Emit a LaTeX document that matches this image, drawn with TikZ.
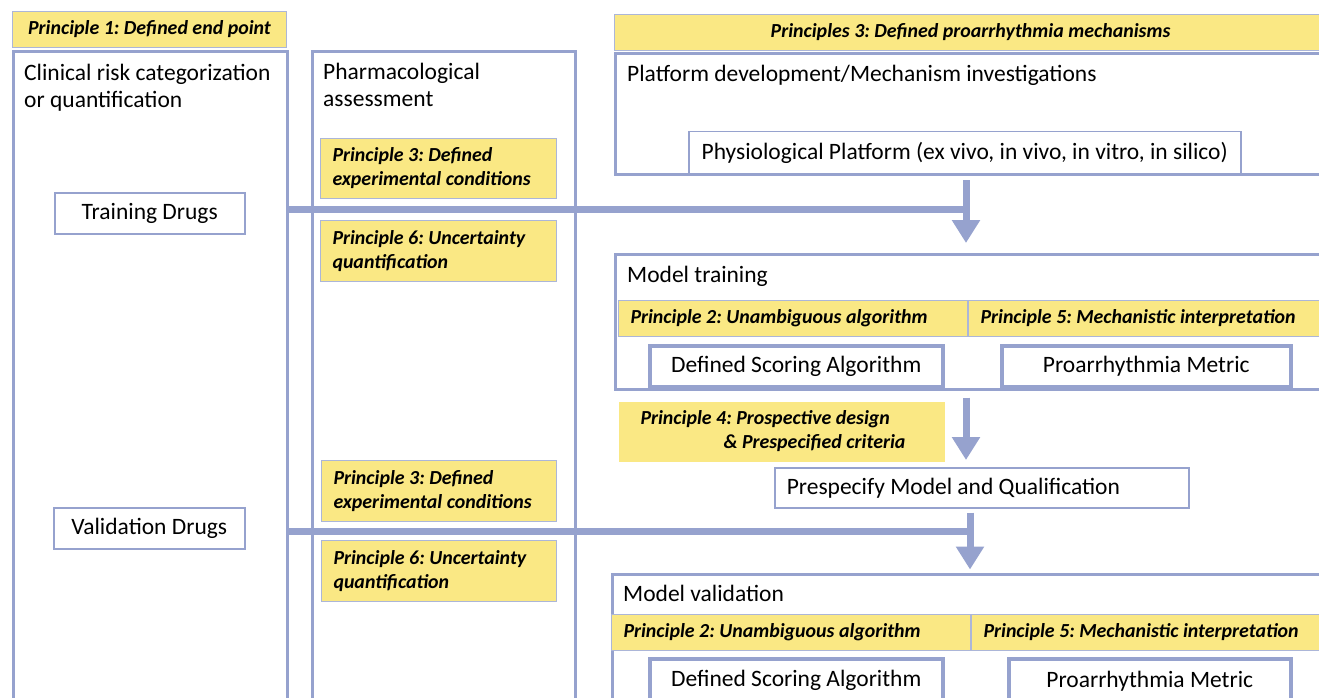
\documentclass[tikz,border=0pt]{standalone}
\usepackage{fontspec}
\setmainfont{Carlito}
\frenchspacing
\usetikzlibrary{positioning,arrows.meta}
\definecolor{bordc}{RGB}{150,162,206}
\definecolor{prinyel}{RGB}{250,232,132}
\definecolor{prinline}{RGB}{172,182,216}

\tikzset{
  frame/.style={draw=bordc, line width=3pt, anchor=north west, inner sep=0pt},
  lbl/.style={anchor=base west, inner sep=0pt, align=flush left, font=\fontsize{23.5}{28}\selectfont},
  itembox/.style={draw=bordc, line width=1.5pt, fill=white, anchor=north west, inner sep=0pt, font=\fontsize{23.5}{28}\selectfont},
  metricbox/.style={itembox, line width=3.5pt},
  prin/.style={fill=prinyel, draw=prinline, line width=1pt, anchor=north west, inner xsep=12pt, inner ysep=0pt,
    align=flush left, text width=#1, font=\bfseries\itshape\fontsize{19.9}{24}\selectfont},
  flow/.style={draw=bordc, line width=7pt},
  flowarr/.style={flow, -{Triangle[width=27pt,length=23pt]}},
}

\begin{document}
\begin{tikzpicture}[x=1pt, y=-1pt]
  \useasboundingbox (0,0) rectangle (1319,698);
  \clip (0,0) rectangle (1319,698);

  % clinical column
  \node[prin=264, inner xsep=5pt, align=flush center, minimum height=36pt] (p1) at (12,11) {Principle 1: Defined end point};
  \node[frame, minimum width=274pt, minimum height=720pt] (leftcol) at (12,50) {};
  \node[lbl] (leftlbl) at ([shift={(12,58)}]leftcol.north west) {Clinical risk categorization\\or quantification};
  \node[itembox, minimum width=190pt, minimum height=41pt] (train) at (54,192) {Training Drugs};
  \node[itembox, minimum width=191pt, minimum height=41pt] (valid) at (53,507) {Validation Drugs};

  % pharmacology column
  \node[frame, minimum width=263pt, minimum height=720pt] (midcol) at (311,50) {};
  \node[lbl] (midlbl) at ([shift={(12,57)}]midcol.north west) {Pharmacological\\assessment};
  \node[prin=212, minimum height=60pt] (p3a) at (320,138) {Principle 3: Defined\\experimental conditions};
  \node[prin=212, minimum height=61pt, below=21pt of p3a] (p6a) {Principle 6: Uncertainty\\quantification};
  \node[prin=211, minimum height=61pt] (p3b) at (321,460) {Principle 3: Defined\\experimental conditions};
  \node[prin=211, minimum height=61pt, below=18pt of p3b] (p6b) {Principle 6: Uncertainty\\quantification};

  % platform
  \node[prin=688, align=flush center, minimum height=36pt] (p3c) at (614,14) {Principles 3: Defined proarrhythmia mechanisms};
  \node[itembox, minimum width=552pt, minimum height=42pt] (physio) at (688,131) {Physiological Platform (ex vivo, in vivo, in vitro, in silico)};
  \node[frame, minimum width=720pt, minimum height=121pt] (platform) at (614,52) {};
  \node[lbl] (platlbl) at ([shift={(13,30)}]platform.north west) {Platform development/Mechanism investigations};

  % model training
  \node[frame, minimum width=720pt, minimum height=135pt] (mtrain) at (614,253) {};
  \node[lbl] (mtrainlbl) at ([shift={(13,29)}]mtrain.north west) {Model training};
  \node[prin=325, minimum height=36pt] (p2a) at (618,300) {Principle 2: Unambiguous algorithm};
  \node[prin=335, minimum height=36pt, right=0pt of p2a] (p5a) {Principle 5: Mechanistic interpretation};
  \node[metricbox, minimum width=293pt, minimum height=41pt] (dsa1) at (648,344) {Defined Scoring Algorithm};
  \node[metricbox, minimum width=289pt, minimum height=41pt] (pm1) at (1000,344) {Proarrhythmia Metric};

  % prespecification
  \node[prin=282, draw=none, inner xsep=22pt, minimum height=60pt] (p4) at (618,401) {Principle 4: Prospective design\\\hspace*{83pt}\& Prespecified criteria};
  \node[itembox, minimum width=414pt, minimum height=40pt, text width=390pt, inner xsep=12pt, align=flush left] (prespec) at (774,467) {Prespecify Model and Qualification};

  % model validation
  \node[frame, minimum width=720pt, minimum height=200pt] (mvalid) at (611,573) {};
  \node[lbl] (mvalidlbl) at ([shift={(12,28)}]mvalid.north west) {Model validation};
  \node[prin=335, minimum height=36pt] (p2b) at (611,614) {Principle 2: Unambiguous algorithm};
  \node[prin=332, minimum height=36pt, right=0pt of p2b] (p5b) {Principle 5: Mechanistic interpretation};
  \node[metricbox, minimum width=293pt, minimum height=44pt] (dsa2) at (648,657) {Defined Scoring Algorithm};
  \node[metricbox, minimum width=282pt, minimum height=44pt] (pm2) at (1007,657) {Proarrhythmia Metric};

  % flow
  \coordinate (j1) at (966,209);
  \coordinate (j2) at (970,531);
  \draw[flow] (leftcol.east |- j1) -- ([xshift=3.5pt]j1);
  \draw[flowarr] ([yshift=-4pt]platform.south -| j1) -- ([yshift=10pt]mtrain.north -| j1);
  \draw[flowarr] ([yshift=-6.5pt]mtrain.south -| j1) -- ([yshift=7pt]prespec.north -| j1);
  \draw[flow] (leftcol.east |- j2) -- ([xshift=3.5pt]j2);
  \draw[flowarr] ([yshift=-4pt]prespec.south -| j2) -- ([yshift=3.5pt]mvalid.north -| j2);
\end{tikzpicture}
\end{document}
